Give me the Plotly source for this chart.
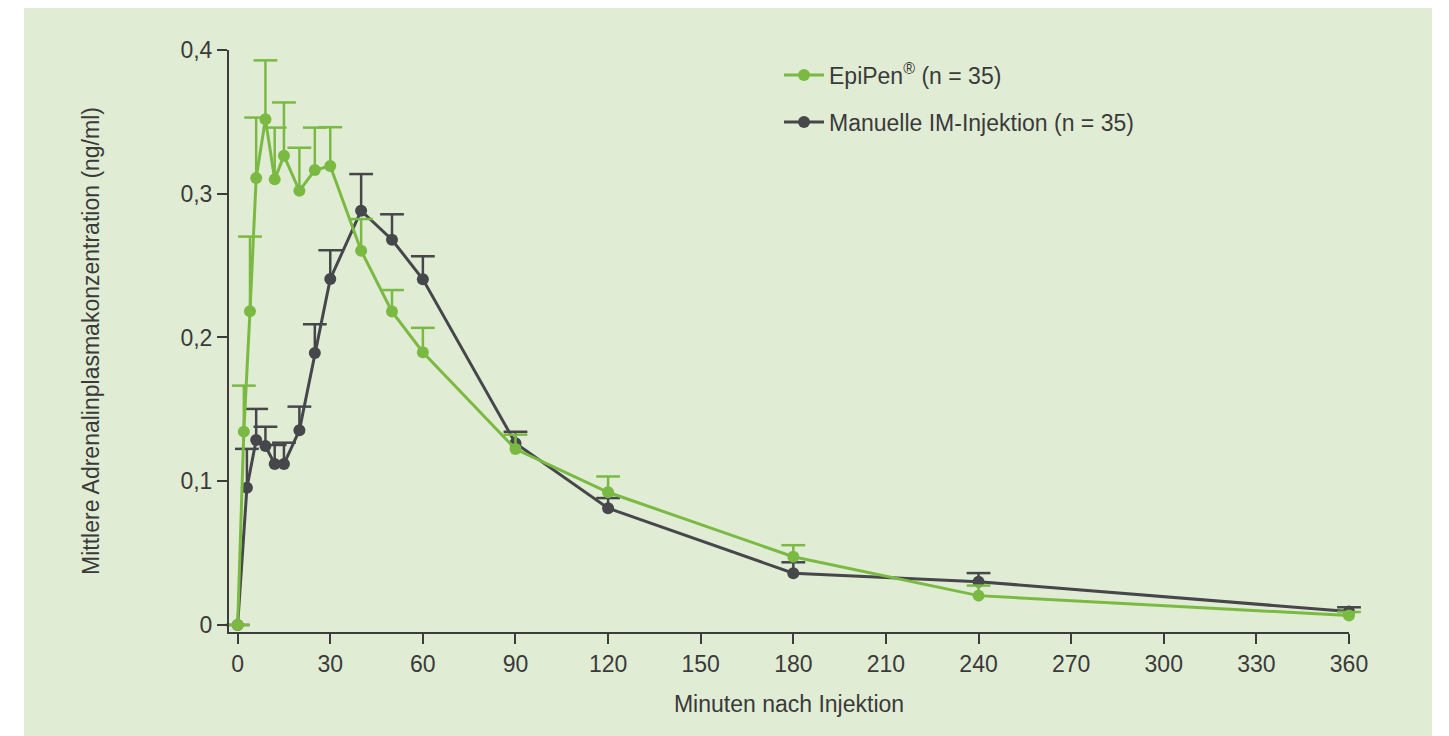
import plotly.graph_objects as go

# ---- data ----
epipen_minutes = [0, 2, 4, 6, 9, 12, 15, 20, 25, 30, 40, 50, 60, 90, 120, 180, 240, 360]
epipen_conc = [0.0, 0.1345, 0.2182, 0.311, 0.3518, 0.310, 0.3265, 0.302, 0.3165, 0.3193,
               0.2604, 0.218, 0.1897, 0.1224, 0.0923, 0.0475, 0.0204, 0.0065]
epipen_err = [0.0, 0.032, 0.052, 0.042, 0.041, 0.036, 0.037, 0.030, 0.0295, 0.027,
              0.022, 0.015, 0.017, 0.010, 0.011, 0.008, 0.007, 0.0025]

manual_minutes = [0, 3, 6, 9, 12, 15, 20, 25, 30, 40, 50, 60, 90, 120, 180, 240, 360]
manual_conc = [0.0, 0.0955, 0.1287, 0.1245, 0.112, 0.112, 0.1354, 0.1892, 0.2407, 0.2882,
               0.268, 0.2405, 0.1264, 0.0812, 0.036, 0.0301, 0.0093]
manual_err = [0.0, 0.027, 0.0216, 0.0134, 0.0132, 0.0148, 0.0165, 0.020, 0.020, 0.0255,
              0.0177, 0.016, 0.008, 0.0071, 0.0076, 0.006, 0.003]

x_tickvals = [0, 30, 60, 90, 120, 150, 180, 210, 240, 270, 300, 330, 360]
y_tickvals = [0, 0.1, 0.2, 0.3, 0.4]
y_ticktext = ["0", "0,1", "0,2", "0,3", "0,4"]

name_epipen = "EpiPen<sup>®</sup> (n = 35)"
name_manual = "Manuelle IM-Injektion (n = 35)"
x_title = "Minuten nach Injektion"
y_title = "Mittlere Adrenalinplasmakonzentration (ng/ml)"

# ---- styles ----
GREEN = "#7aba43"
DARK = "#45474b"
BG = "#e1ecd4"
TXT = "#3a3a3a"
AXC = "#3c3c3c"
FONT = "Liberation Sans"
FS = 23

# page (screenshot) geometry; the html body adds an 8px margin
OFF = 8
W, H = 1449 - OFF, 736 - OFF
plot_left, plot_right, plot_top, plot_bottom = 229, 1349, 50, 632   # page px
ml = plot_left - OFF
mr = (W + OFF) - plot_right
mt = plot_top - OFF
mb = (H + OFF) - plot_bottom
pw, ph = plot_right - plot_left, plot_bottom - plot_top


def px_to_paper_x(px):
    return (px - plot_left) / pw


def px_to_paper_y(py):
    return (plot_bottom - py) / ph


def err_traces(x, y, err, color):
    """Upper-only error bars: stem via error_y (no caps), cap via a line-ew marker."""
    tops = [v + e for v, e in zip(y, err)]
    return go.Scatter(
        x=x, y=tops, mode="markers", showlegend=False, hoverinfo="skip",
        marker=dict(symbol="line-ew", size=17, color=color,
                    line=dict(width=2.5, color=color)),
        error_y=dict(type="data", symmetric=False, array=[0] * len(err),
                     arrayminus=err, color=color, thickness=2.5, width=0),
        cliponaxis=False,
    )


fig = go.Figure()

fig.add_trace(err_traces(manual_minutes, manual_conc, manual_err, DARK))
fig.add_trace(go.Scatter(
    x=manual_minutes, y=manual_conc, name=name_manual, mode="lines+markers",
    line=dict(color=DARK, width=3), marker=dict(color=DARK, size=12),
    cliponaxis=False, legend="legend2",
))
fig.add_trace(err_traces(epipen_minutes, epipen_conc, epipen_err, GREEN))
fig.add_trace(go.Scatter(
    x=epipen_minutes, y=epipen_conc, name=name_epipen, mode="lines+markers",
    line=dict(color=GREEN, width=3), marker=dict(color=GREEN, size=12),
    cliponaxis=False, legend="legend",
))

fig.add_shape(type="rect", xref="paper", yref="paper", layer="below",
              x0=px_to_paper_x(24), x1=px_to_paper_x(1432),
              y0=px_to_paper_y(745), y1=px_to_paper_y(6),
              fillcolor=BG, line=dict(width=0))

leg_common = dict(xanchor="left", yanchor="middle", bgcolor="rgba(0,0,0,0)",
                  font=dict(size=FS, color=TXT), itemwidth=40)

fig.update_layout(
    width=W, height=H,
    margin=dict(l=ml, r=mr, t=mt, b=mb, autoexpand=False),
    paper_bgcolor="white", plot_bgcolor="rgba(0,0,0,0)",
    font=dict(family=FONT, size=FS, color=TXT),
    showlegend=True,
    legend=dict(x=px_to_paper_x(779), y=px_to_paper_y(75), **leg_common),
    legend2=dict(x=px_to_paper_x(779), y=px_to_paper_y(122), **leg_common),
    xaxis=dict(
        range=[-2.8, 360], tickvals=x_tickvals, showgrid=False, zeroline=False,
        showline=True, linecolor=AXC, linewidth=2,
        ticks="outside", ticklen=10, tickwidth=2, tickcolor=AXC,
        tickfont=dict(size=FS, color=TXT),
        title=dict(text=x_title, font=dict(size=FS, color=TXT), standoff=20),
    ),
    yaxis=dict(
        range=[-0.0049, 0.4], tickvals=y_tickvals, ticktext=y_ticktext,
        showgrid=False, zeroline=False,
        showline=True, linecolor=AXC, linewidth=2,
        ticks="outside", ticklen=10, tickwidth=2, tickcolor=AXC,
        tickfont=dict(size=FS, color=TXT),
        title=dict(text=y_title, font=dict(size=FS, color=TXT), standoff=74),
    ),
)

fig.write_html("out.html")
